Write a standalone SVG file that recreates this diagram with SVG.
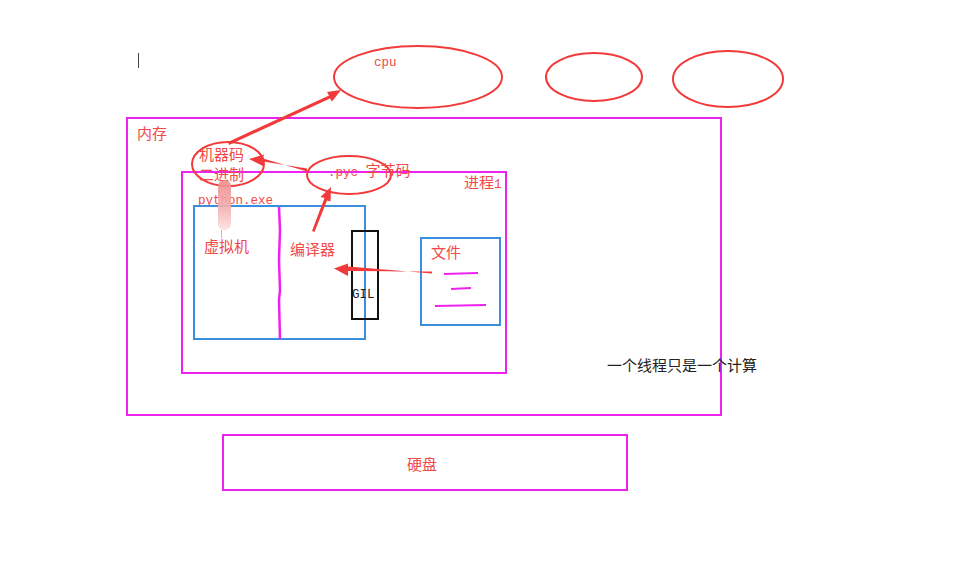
<svg xmlns="http://www.w3.org/2000/svg" width="955" height="583" viewBox="0 0 955 583">
<defs>
<style>
.mag{fill:none;stroke:#ee22ee;stroke-width:2}
.blue{fill:none;stroke:#3a8ede;stroke-width:2}
.red{fill:none;stroke:#f23a3a;stroke-width:2}
.t{font-family:"Liberation Mono","Noto Sans CJK SC",monospace;font-size:15px;fill:#f24848}
.k{font-family:"Liberation Mono","Noto Sans CJK SC",monospace;font-size:15px;fill:#222}
.a{font-size:12.5px}
.arr{fill:#f23a3a}
</style>
<linearGradient id="smudge" x1="0" y1="0" x2="0" y2="1">
<stop offset="0" stop-color="#f08a8a"/>
<stop offset="0.6" stop-color="#f4b4b4"/>
<stop offset="1" stop-color="#fbe0e0"/>
</linearGradient>
</defs>
<rect width="955" height="583" fill="#fff"/>
<line x1="138.5" y1="53" x2="138.5" y2="68" stroke="#444" stroke-width="1"/>

<g id="cpu"><ellipse class="red" cx="418" cy="77" rx="84" ry="31"/><text class="t" x="374" y="66"><tspan class="a">cpu</tspan></text></g>
<g id="cpu2"><ellipse class="red" cx="594" cy="77" rx="48" ry="24"/></g>
<g id="cpu3"><ellipse class="red" cx="728" cy="79" rx="55" ry="28"/></g>

<g id="memory"><rect class="mag" x="127" y="118" width="594" height="297"/><text class="t" x="137" y="139">内存</text></g>
<g id="process"><rect class="mag" x="182" y="172" width="324" height="201"/><text class="t" x="464" y="188">进程<tspan class="a">1</tspan></text></g>

<g id="pythonexe">
<text class="t" x="198" y="204"><tspan class="a">python.exe</tspan></text>
<rect class="blue" x="194" y="206" width="171" height="133"/>
<path d="M279 207 L280 230 L279 260 L280 290 L279 300 L280 339" fill="none" stroke="#ee22ee" stroke-width="2.5"/>
</g>
<g id="vm"><text class="t" x="204" y="252">虚拟机</text></g>
<g id="compiler"><text class="t" x="290" y="255">编译器</text></g>

<g id="machinecode">
<ellipse class="red" cx="228" cy="164" rx="36" ry="22"/>
<text class="t" x="199" y="160">机器码</text>
<text class="t" x="199" y="180">二进制</text>
</g>
<g id="smudge-mark">
<rect x="218" y="180" width="13" height="50" rx="6" fill="url(#smudge)" opacity="0.9"/>
<line x1="221.5" y1="230" x2="221.5" y2="238" stroke="#f6a0a0" stroke-width="1"/>
</g>
<g id="pyc">
<ellipse class="red" cx="349" cy="175" rx="42" ry="19"/>
<text class="t" x="328" y="176"><tspan class="a">.pyc </tspan>字节码</text>
</g>

<g id="gil"><rect x="352" y="231" width="26" height="88" fill="none" stroke="#111" stroke-width="2"/><text class="k" x="352" y="298"><tspan class="a">GIL</tspan></text></g>

<g id="file">
<rect class="blue" x="421" y="238" width="79" height="87"/>
<text class="t" x="431" y="258">文件</text>
<path d="M444 274 L478 273" stroke="#ee22ee" stroke-width="2" fill="none"/>
<path d="M451 289 L471 288" stroke="#ee22ee" stroke-width="2" fill="none"/>
<path d="M435 306 L486 305" stroke="#ee22ee" stroke-width="2" fill="none"/>
</g>

<g id="disk"><rect class="mag" x="223" y="435" width="404" height="55"/><text class="t" x="407" y="470">硬盘</text></g>

<g id="note"><text class="k" x="607" y="371">一个线程只是一个计算</text></g>

<g id="connectors">
<polygon class="arr" points="228,142 329,95.5 327,92 341,90 332,101.5 330,98.5 229,145"/>
<polygon class="arr" points="307,168.5 263,161.5 263,166 249,159 264,154.5 263,158.5 307,171.5"/>
<polygon class="arr" points="312,231 324.5,198 320.5,197 331,187 330.5,201.5 327,200.5 314.5,232"/>
<polygon class="arr" points="432,271.5 348,271 348,276 334,268.5 348,263.5 348,266.5 432,273.5"/>
</g>
</svg>
